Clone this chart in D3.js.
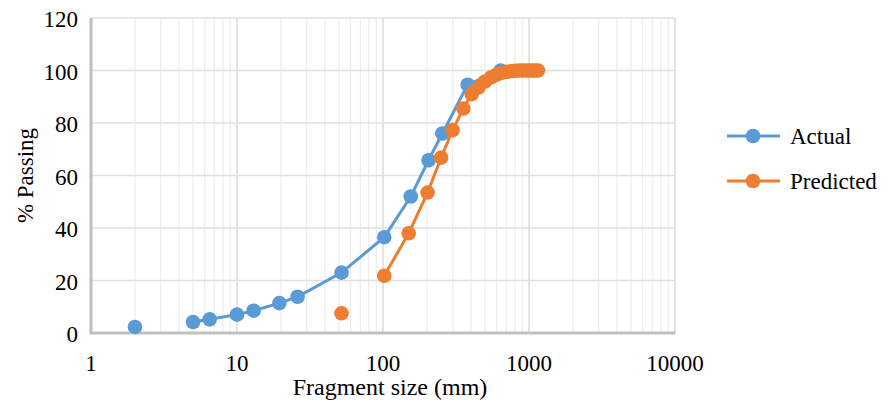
<!DOCTYPE html>
<html>
<head>
<meta charset="utf-8">
<script src="https://cdn.jsdelivr.net/npm/d3@7"></script>
<style>
  body { margin: 0; background: #fff; }
  svg { display: block; }
</style>
</head>
<body>
<svg></svg>
<script>
// values
const actualSize = [2, 5, 6.5, 10, 13, 19.5, 26, 52, 102, 155, 205, 255, 380, 640];
const actualPassing = [2.3, 4.2, 5.2, 7, 8.5, 11.4, 13.8, 23, 36.5, 52, 65.8, 76, 94.6, 100];
const predSize = [52, 102, 150, 202, 250, 300, 355, 405, 450, 500, 550, 600, 650, 700, 750, 800, 850, 900, 950, 1000, 1050, 1100, 1150];
const predPassing = [7.5, 21.8, 38, 53.5, 66.8, 77.3, 85.5, 91, 93.5, 95.8, 97.4, 98.4, 99.1, 99.5, 99.7, 99.9, 100, 100, 100, 100, 100, 100, 100];
const xTicks = [1, 10, 100, 1000, 10000];
const yTicks = [0, 20, 40, 60, 80, 100, 120];

const series = [
  {name: "Actual", color: "#5b9bd5", x: actualSize, y: actualPassing},
  {name: "Predicted", color: "#ed7d31", x: predSize, y: predPassing}
];

const svgWidth = 891, svgHeight = 404;
const margin = {top: 18, left: 91, right: 216, bottom: 71};
const fontSize = 23;
const font = "Liberation Serif";

const svg = d3.select("svg")
  .attr("width", svgWidth)
  .attr("height", svgHeight);

const x = d3.scaleLog().domain([1, 10000]).range([margin.left, svgWidth - margin.right]);
const y = d3.scaleLinear().domain([0, 120]).range([svgHeight - margin.bottom, margin.top]);

// minor gridlines (2..9 in each decade)
const minor = [];
for (let d = 1; d < 10000; d *= 10)
  for (let k = 2; k <= 9; k++) minor.push(d * k);

const grid = svg.append("g");
grid.selectAll(".minor")
  .data(minor)
  .join("line")
  .attr("x1", d => x(d)).attr("x2", d => x(d))
  .attr("y1", y(0)).attr("y2", y(120))
  .attr("stroke", "#eeeeee").attr("stroke-width", 1.3);

grid.selectAll(".hgrid")
  .data(yTicks.filter(d => d > 0))
  .join("line")
  .attr("x1", x(1)).attr("x2", x(10000))
  .attr("y1", d => y(d)).attr("y2", d => y(d))
  .attr("stroke", "#e0e0e0").attr("stroke-width", 1.6);

grid.selectAll(".vgrid")
  .data(xTicks.slice(1))
  .join("line")
  .attr("x1", d => x(d)).attr("x2", d => x(d))
  .attr("y1", y(0)).attr("y2", y(120))
  .attr("stroke", "#dcdcdc").attr("stroke-width", 1.6);

// axis lines
svg.append("line")
  .attr("x1", x(1)).attr("x2", x(1))
  .attr("y1", y(0)).attr("y2", y(120))
  .attr("stroke", "#bfbfbf").attr("stroke-width", 3);
svg.append("line")
  .attr("x1", x(1) - 1.5).attr("x2", x(10000))
  .attr("y1", y(0)).attr("y2", y(0))
  .attr("stroke", "#bfbfbf").attr("stroke-width", 3);

// tick labels
svg.append("g")
  .selectAll("text")
  .data(yTicks)
  .join("text")
  .attr("x", x(1) - 13)
  .attr("y", d => y(d))
  .attr("dy", "0.4em")
  .attr("text-anchor", "end")
  .attr("font-family", font)
  .attr("font-size", fontSize)
  .text(d => d);

svg.append("g")
  .selectAll("text")
  .data(xTicks)
  .join("text")
  .attr("x", d => x(d))
  .attr("y", y(0) + 38)
  .attr("text-anchor", "middle")
  .attr("font-family", font)
  .attr("font-size", fontSize)
  .text(d => d);

// axis titles
svg.append("text")
  .attr("x", 390)
  .attr("y", 395)
  .attr("text-anchor", "middle")
  .attr("font-family", font)
  .attr("font-size", 24)
  .text("Fragment size (mm)");

svg.append("text")
  .attr("transform", `translate(33,${(y(0) + y(120)) / 2}) rotate(-90)`)
  .attr("text-anchor", "middle")
  .attr("font-family", font)
  .attr("font-size", fontSize)
  .text("% Passing");

// series
const line = d3.line().x(d => x(d[0])).y(d => y(d[1]));

series.forEach(s => {
  const pts = d3.zip(s.x, s.y);
  const g = svg.append("g");
  // the first point of each series is not joined to the rest
  g.append("path")
    .datum(pts.slice(1))
    .attr("fill", "none")
    .attr("stroke", s.color)
    .attr("stroke-width", 3)
    .attr("d", line);
  g.selectAll("circle")
    .data(pts)
    .join("circle")
    .attr("cx", d => x(d[0]))
    .attr("cy", d => y(d[1]))
    .attr("r", 7.3)
    .attr("fill", s.color);
});

// legend
const legend = svg.append("g")
  .selectAll("g")
  .data(series)
  .join("g")
  .attr("transform", (d, i) => `translate(727,${136 + i * 45})`);
legend.append("line")
  .attr("x1", 0).attr("x2", 53)
  .attr("stroke", d => d.color).attr("stroke-width", 3);
legend.append("circle")
  .attr("cx", 26).attr("r", 7.3)
  .attr("fill", d => d.color);
legend.append("text")
  .attr("x", 63)
  .attr("dy", "0.35em")
  .attr("font-family", font)
  .attr("font-size", fontSize)
  .text(d => d.name);
</script>
</body>
</html>
